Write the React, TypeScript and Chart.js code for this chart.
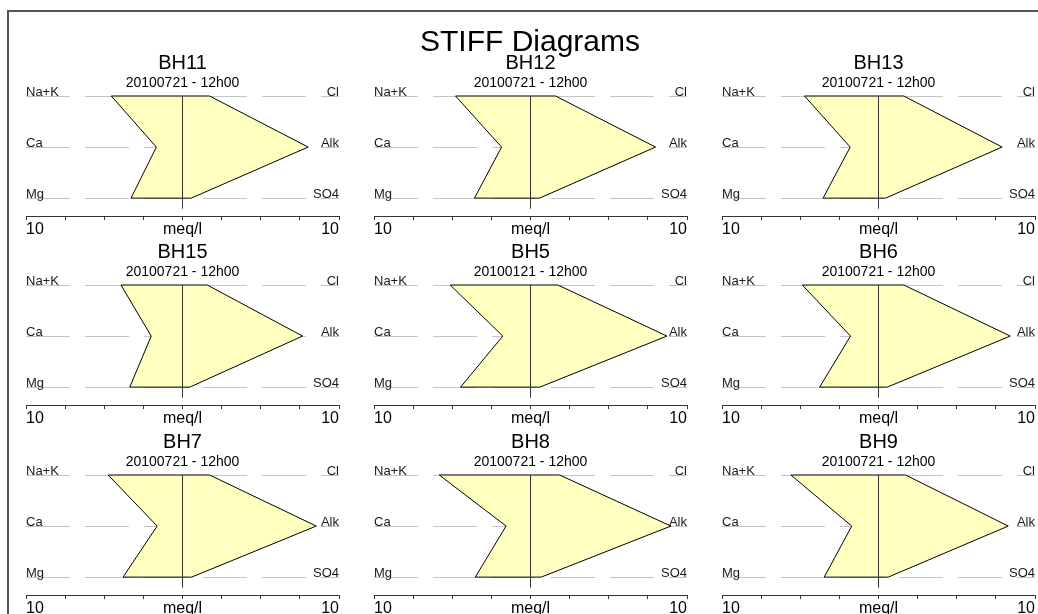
import React, { useEffect, useRef } from 'react';
import { Chart, registerables } from 'chart.js';

Chart.register(...registerables);

const FONT = '"Liberation Sans", Arial, Helvetica, sans-serif';
Chart.defaults.font.family = FONT;
Chart.defaults.color = '#000';

const MAIN_TITLE = 'STIFF Diagrams';
const STATIONS = ['BH11', 'BH12', 'BH13', 'BH15', 'BH5', 'BH6', 'BH7', 'BH8', 'BH9'];
const DATES = [
  '20100721 - 12h00', '20100721 - 12h00', '20100721 - 12h00',
  '20100721 - 12h00', '20100121 - 12h00', '20100721 - 12h00',
  '20100721 - 12h00', '20100721 - 12h00', '20100721 - 12h00',
];
const LEFT_IONS = ['Na+K', 'Ca', 'Mg'];
const RIGHT_IONS = ['Cl', 'Alk', 'SO4'];
// meq/l values
const NA_K = [4.55, 4.79, 4.73, 3.93, 5.13, 4.87, 4.75, 5.83, 5.6];
const CA = [1.67, 1.85, 1.81, 2.0, 1.77, 1.79, 1.62, 1.56, 1.71];
const MG = [3.29, 3.58, 3.54, 3.37, 4.47, 3.76, 3.8, 3.53, 3.47];
const CL = [1.73, 1.6, 1.62, 1.58, 1.75, 1.62, 1.73, 1.86, 1.73];
const ALK = [8.03, 7.99, 7.9, 7.67, 8.72, 8.42, 8.55, 8.97, 8.29];
const SO4 = [0.56, 0.58, 0.45, 0.47, 0.6, 0.56, 0.58, 0.68, 0.62];
const AXIS_MAX = 10;
const AXIS_STEP = 2.5;
const AXIS_END_LABEL = '10';
const AXIS_UNIT = 'meq/l';

const Y_MAX = 2.35;
const CENTER_LINE_END = 2.2;

const COL_LEFT = [8, 356, 704];
const ROW_TOP = [36, 225, 415];
const CANVAS_W = 348;
const CANVAS_H = 210;

function polygon(i: number) {
  return [
    { x: -NA_K[i], y: 0 },
    { x: -CA[i], y: 1 },
    { x: -MG[i], y: 2 },
    { x: SO4[i], y: 2 },
    { x: ALK[i], y: 1 },
    { x: CL[i], y: 0 },
    { x: -NA_K[i], y: 0 },
  ];
}

function ionAxis(position: 'left' | 'right', labels: string[], showGrid: boolean) {
  return {
    type: 'linear',
    position,
    reverse: true,
    min: 0,
    max: Y_MAX,
    afterBuildTicks: (scale: any) => {
      scale.ticks = labels.map((_, k) => ({ value: k }));
    },
    ticks: {
      mirror: true,
      padding: 0,
      labelOffset: -4,
      color: '#1a1a1a',
      font: { family: FONT, size: 13 },
      callback: (v: any) => labels[v] ?? '',
    },
    grid: {
      display: showGrid,
      drawTicks: false,
      color: '#c4c4c4',
      lineWidth: 1,
      borderDash: [44, 15],
    },
    border: { display: false, dash: [44, 15] },
  };
}

function Panel({ index }: { index: number }) {
  const ref = useRef<HTMLCanvasElement | null>(null);
  useEffect(() => {
    if (!ref.current) return;
    const chart = new Chart(ref.current, {
      type: 'line',
      data: {
        datasets: [
          {
            data: [{ x: 0, y: 0 }, { x: 0, y: CENTER_LINE_END }],
            borderColor: '#333',
            borderWidth: 1,
            pointRadius: 0,
            fill: false,
            order: 0,
            clip: false,
          } as any,
          {
            data: polygon(index),
            borderColor: '#000',
            borderWidth: 1,
            backgroundColor: '#ffffc0',
            fill: 'shape',
            pointRadius: 0,
            tension: 0,
            order: 1,
            clip: false,
          } as any,
        ],
      },
      options: {
        responsive: false,
        animation: false,
        events: [],
        layout: { padding: { top: 15.2, left: 18, right: 17, bottom: 6 } },
        plugins: {
          legend: { display: false },
          tooltip: { enabled: false },
          title: {
            display: true,
            text: STATIONS[index],
            color: '#000',
            font: { family: FONT, size: 20, weight: 'normal', lineHeight: 1.2 },
            padding: { top: 0, bottom: 0 },
          },
          subtitle: {
            display: true,
            text: DATES[index],
            color: '#000',
            font: { family: FONT, size: 14, weight: 'normal', lineHeight: 1.2 },
            padding: { top: 0, bottom: 4 },
          },
        },
        scales: {
          x: {
            type: 'linear',
            position: 'bottom',
            min: -AXIS_MAX,
            max: AXIS_MAX,
            ticks: {
              stepSize: AXIS_STEP,
              autoSkip: false,
              maxRotation: 0,
              minRotation: 0,
              align: 'inner',
              padding: 2,
              color: '#000',
              font: { family: FONT, size: 16, lineHeight: 1 },
              callback: (v: any) =>
                Number(v) === 0 ? AXIS_UNIT : Math.abs(Number(v)) === AXIS_MAX ? AXIS_END_LABEL : '',
            },
            grid: { drawOnChartArea: false, drawTicks: true, tickLength: 4, color: '#333' },
            border: { display: true, color: '#333', width: 1 },
          },
          y: ionAxis('left', LEFT_IONS, true),
          y2: ionAxis('right', RIGHT_IONS, false),
        } as any,
      } as any,
    });
    return () => chart.destroy();
  }, [index]);

  const col = index % 3;
  const row = Math.floor(index / 3);
  return (
    <canvas
      ref={ref}
      width={CANVAS_W}
      height={CANVAS_H}
      style={{
        position: 'absolute',
        left: COL_LEFT[col],
        top: ROW_TOP[row],
        width: CANVAS_W,
        height: CANVAS_H,
      }}
    />
  );
}

export default function App() {
  return (
    <div
      style={{
        position: 'absolute',
        left: 0,
        top: 0,
        width: 1038,
        height: 614,
        overflow: 'hidden',
        background: '#fff',
      }}
    >
      <div
        style={{
          position: 'absolute',
          left: 7,
          top: 10,
          width: 1100,
          height: 700,
          borderLeft: '2px solid #555',
          borderTop: '2px solid #555',
        }}
      />
      {STATIONS.map((_, i) => (
        <Panel key={i} index={i} />
      ))}
      <div
        style={{
          position: 'absolute',
          left: 230,
          top: 26,
          width: 600,
          textAlign: 'center',
          fontFamily: FONT,
          fontSize: 30,
          lineHeight: '30px',
          color: '#000',
          whiteSpace: 'nowrap',
        }}
      >
        {MAIN_TITLE}
      </div>
    </div>
  );
}
